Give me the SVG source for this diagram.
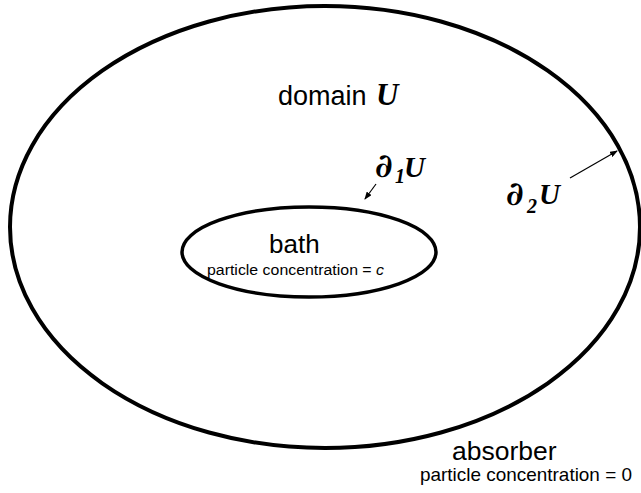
<svg xmlns="http://www.w3.org/2000/svg" width="641" height="493" viewBox="0 0 641 493">
<style>
.sans{font-family:"Liberation Sans",Arial,sans-serif;fill:#000}
.math{font-family:"Liberation Serif","Times New Roman",serif;font-weight:bold;font-style:italic;fill:#000}
.partial{font-family:"DejaVu Serif",serif;font-weight:bold;font-style:italic;fill:#000}
.ring{fill:none;stroke:#000}
.arr{stroke:#000;stroke-width:1.2;fill:none}
</style>
<defs>
<marker id="ah" markerWidth="8" markerHeight="6" refX="7" refY="3" orient="auto" markerUnits="userSpaceOnUse">
<path d="M0,0 L8,3 L0,6 Z" fill="#000"/>
</marker>
</defs>
<rect width="641" height="493" fill="#fff"/>
<g id="domain">
<ellipse class="ring" cx="325" cy="227" rx="315" ry="221" stroke-width="4"/>
<text class="sans" x="278" y="105" font-size="27">domain <tspan class="math" x="376" font-size="31">U</tspan></text>
</g>
<g id="bath">
<ellipse class="ring" cx="309" cy="252" rx="127" ry="45" stroke-width="3.5"/>
<text class="sans" x="269" y="253" font-size="26">bath</text>
<text class="sans" x="207" y="275" font-size="15.5" textLength="177" lengthAdjust="spacingAndGlyphs">particle concentration =  <tspan font-style="italic">c</tspan></text>
</g>
<g id="boundary1">
<text y="177"><tspan class="partial" x="375" font-size="33">∂</tspan><tspan class="math" x="395" y="183" font-size="20">1</tspan><tspan class="math" x="404" y="177" font-size="29">U</tspan></text>
</g>
<g id="boundary2">
<text y="205"><tspan class="partial" x="506" font-size="33">∂</tspan><tspan class="math" x="527" y="213" font-size="20">2</tspan><tspan class="math" x="539" y="204" font-size="29">U</tspan></text>
</g>
<g id="absorber">
<text class="sans" x="452" y="460" font-size="26.5">absorber</text>
<text class="sans" x="420" y="481" font-size="19" textLength="212" lengthAdjust="spacingAndGlyphs">particle concentration = 0</text>
</g>
<g id="connectors">
<line class="arr" x1="376" y1="184" x2="365" y2="199" marker-end="url(#ah)"/>
<line class="arr" x1="570" y1="178" x2="617" y2="151" marker-end="url(#ah)"/>
</g>
</svg>
